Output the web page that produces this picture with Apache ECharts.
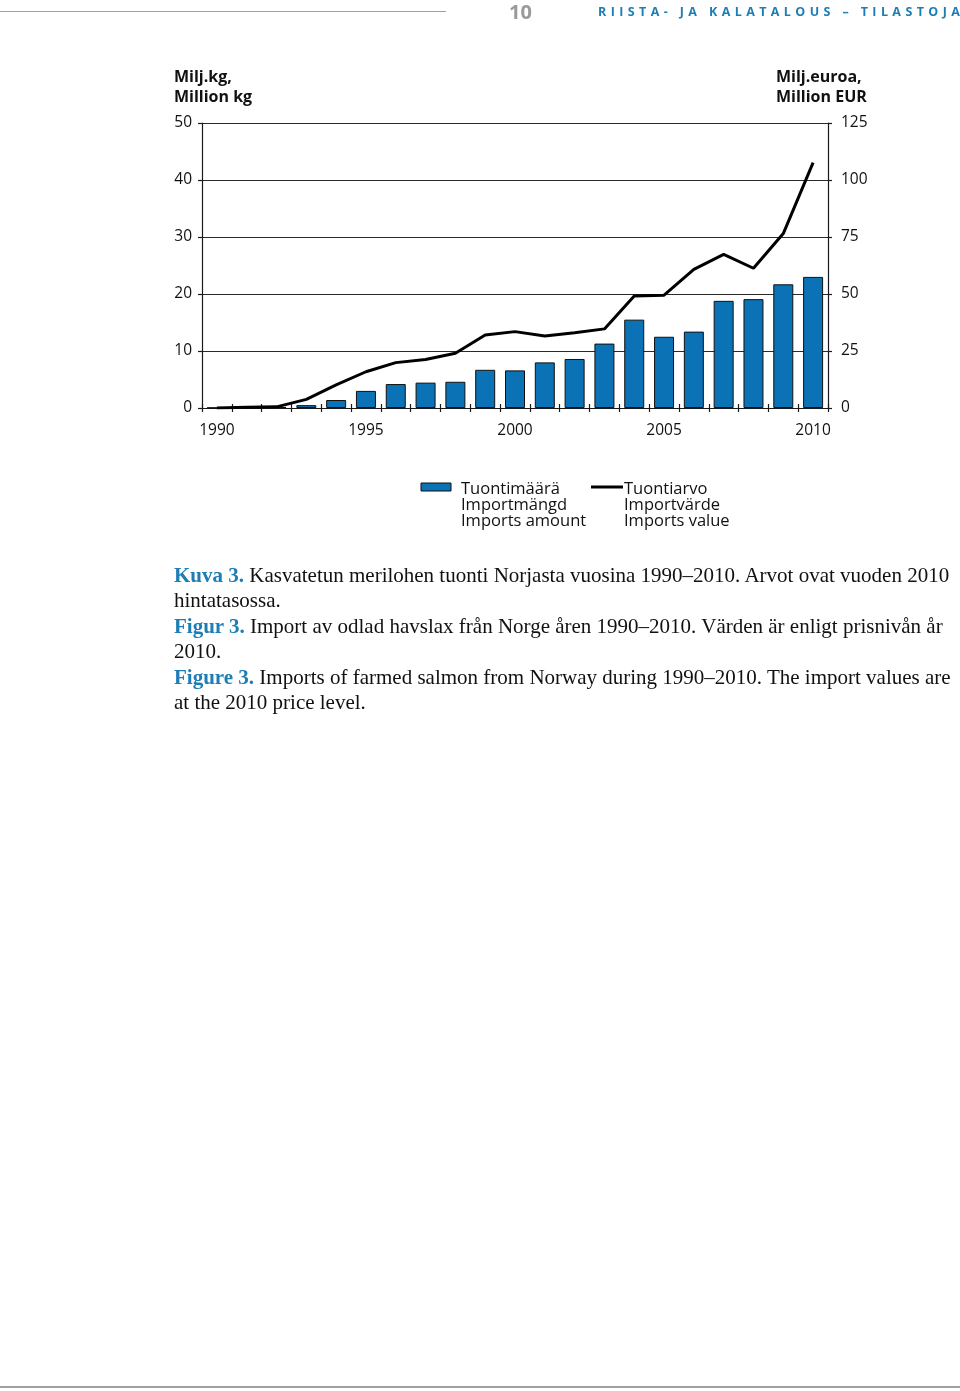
<!DOCTYPE html>
<html>
<head>
<meta charset="utf-8">
<script src="https://cdn.jsdelivr.net/npm/echarts@6/dist/echarts.min.js"></script>
<style>
  html, body { margin: 0; padding: 0; background: #fff; }
  #page { position: relative; width: 960px; height: 1391px; overflow: hidden; }
  #chart { position: absolute; left: 0; top: 0; width: 960px; height: 1391px; }
  .hdr-line { position: absolute; left: 0; top: 11px; width: 446px; height: 0; border-top: 1.5px solid #a0a0a0; }
  .hdr-num { position: absolute; left: 509px; top: 0px; font-family: "Open Sans", sans-serif; font-weight: 700; font-size: 20px; color: #9a9a9a; line-height: 24px; }
  .hdr-title { position: absolute; left: 598px; top: 3px; font-family: "Open Sans", sans-serif; font-weight: 700; font-size: 12.5px; color: #1d7db5; letter-spacing: 4.4px; line-height: 18px; white-space: nowrap; }
  .caption { position: absolute; left: 174px; top: 563px; font-family: "Liberation Serif", "Times New Roman", serif; font-size: 21px; line-height: 25.4px; color: #111; white-space: nowrap; }
  .caption b { color: #1d7db5; font-weight: 700; }
  .foot-line { position: absolute; left: 0; top: 1386px; width: 960px; border-top: 2px solid #a0a0a0; }
</style>
</head>
<body>
<div id="page">
  <div id="chart"></div>
  <div class="hdr-line"></div>
  <div class="hdr-num">10</div>
  <div class="hdr-title">RIISTA- JA KALATALOUS – TILASTOJA</div>
  <div class="caption">
    <div><b>Kuva 3.</b> Kasvatetun merilohen tuonti Norjasta vuosina 1990–2010. Arvot ovat vuoden 2010</div>
    <div>hintatasossa.</div>
    <div><b>Figur 3.</b> Import av odlad havslax från Norge åren 1990–2010. Värden är enligt prisnivån år</div>
    <div>2010.</div>
    <div><b>Figure 3.</b> Imports of farmed salmon from Norway during 1990–2010. The import values are</div>
    <div>at the 2010 price level.</div>
  </div>
  <div class="foot-line"></div>
</div>
<script>
// ---- data ----
var years = ['1990','1991','1992','1993','1994','1995','1996','1997','1998','1999','2000',
             '2001','2002','2003','2004','2005','2006','2007','2008','2009','2010'];
// Imports amount, million kg (left axis)
var importAmount = [0.05, 0.1, 0.2, 0.5, 1.4, 3.0, 4.2, 4.45, 4.6, 6.7, 6.6,
                    8.0, 8.6, 11.3, 15.5, 12.5, 13.4, 18.8, 19.1, 21.7, 23.0];
// Imports value, million EUR (right axis)
var importValue = [0, 0.3, 0.5, 3.8, 10.1, 15.9, 19.9, 21.3, 24.0, 32.0, 33.5,
                   31.6, 33.0, 34.7, 49.1, 49.5, 60.8, 67.4, 61.3, 76.5, 107.6];
var leftTitle = 'Milj.kg,\nMillion kg';
var rightTitle = 'Milj.euroa,\nMillion EUR';
var amountName = 'Tuontimäärä\nImportmängd\nImports amount';
var valueName = 'Tuontiarvo\nImportvärde\nImports value';

var FONT = '"Open Sans", "Noto Sans", sans-serif';
var AX = '#1a1a1a';
var BAR = '#0b72b5';

var chart = echarts.init(document.getElementById('chart'), null, { renderer: 'canvas' });
chart.setOption({
  animation: false,
  grid: { left: 202, right: 132, top: 123, bottom: 983, containLabel: false },
  xAxis: [
    {
      type: 'category', data: years, boundaryGap: true, position: 'bottom',
      axisLine: { show: true, lineStyle: { color: AX, width: 1.2 } },
      axisTick: { show: true, interval: 0, length: 4, inside: false, lineStyle: { color: AX, width: 1.2 } },
      axisLabel: { interval: 4, margin: 15, fontFamily: FONT, fontSize: 15.5, color: '#111' },
      splitLine: { show: false }
    },
    {
      type: 'category', data: years, boundaryGap: true, position: 'bottom',
      axisLine: { show: false },
      axisTick: { show: true, interval: 0, length: 4, inside: true, lineStyle: { color: AX, width: 1.2 } },
      axisLabel: { show: false },
      splitLine: { show: false }
    }
  ],
  yAxis: [
    {
      type: 'value', min: 0, max: 50, interval: 10, position: 'left',
      axisLine: { show: true, lineStyle: { color: AX, width: 1.2 } },
      axisTick: { show: true, length: 4, lineStyle: { color: AX, width: 1.2 } },
      axisLabel: { margin: 10, fontFamily: FONT, fontSize: 15.5, color: '#111', padding: [5, 0, 0, 0] },
      splitLine: { show: true, lineStyle: { color: '#2a2a2a', width: 1 } }
    },
    {
      type: 'value', min: 0, max: 125, interval: 25, position: 'right',
      axisLine: { show: true, lineStyle: { color: AX, width: 1.2 } },
      axisTick: { show: true, length: 4, lineStyle: { color: AX, width: 1.2 } },
      axisLabel: { margin: 13, fontFamily: FONT, fontSize: 15.5, color: '#111', padding: [5, 0, 0, 0] },
      splitLine: { show: false }
    }
  ],
  series: [
    {
      name: 'Tuontimäärä', type: 'bar', xAxisIndex: 0, yAxisIndex: 0,
      data: importAmount, barWidth: 20,
      itemStyle: { color: BAR, borderColor: '#111', borderWidth: 1 }
    },
    {
      name: 'Tuontiarvo', type: 'line', xAxisIndex: 0, yAxisIndex: 1,
      data: importValue, showSymbol: false, symbol: 'none',
      lineStyle: { color: '#000', width: 3 }, z: 5
    }
  ],
  graphic: [
    { type: 'text', left: 174, top: 67, style: { text: leftTitle, font: 'bold 16px ' + FONT, fill: '#111', lineHeight: 20 } },
    { type: 'text', left: 776, top: 67, style: { text: rightTitle, font: 'bold 16px ' + FONT, fill: '#111', lineHeight: 20 } },
    { type: 'rect', shape: { x: 421, y: 483, width: 30, height: 8 }, style: { fill: BAR, stroke: '#111', lineWidth: 1 } },
    { type: 'text', left: 461, top: 481, style: { text: amountName, font: '16.5px ' + FONT, fill: '#111', lineHeight: 16 } },
    { type: 'line', shape: { x1: 591, y1: 487, x2: 623, y2: 487 }, style: { stroke: '#000', lineWidth: 3 } },
    { type: 'text', left: 624, top: 481, style: { text: valueName, font: '16.5px ' + FONT, fill: '#111', lineHeight: 16 } }
  ]
});
</script>
</body>
</html>
